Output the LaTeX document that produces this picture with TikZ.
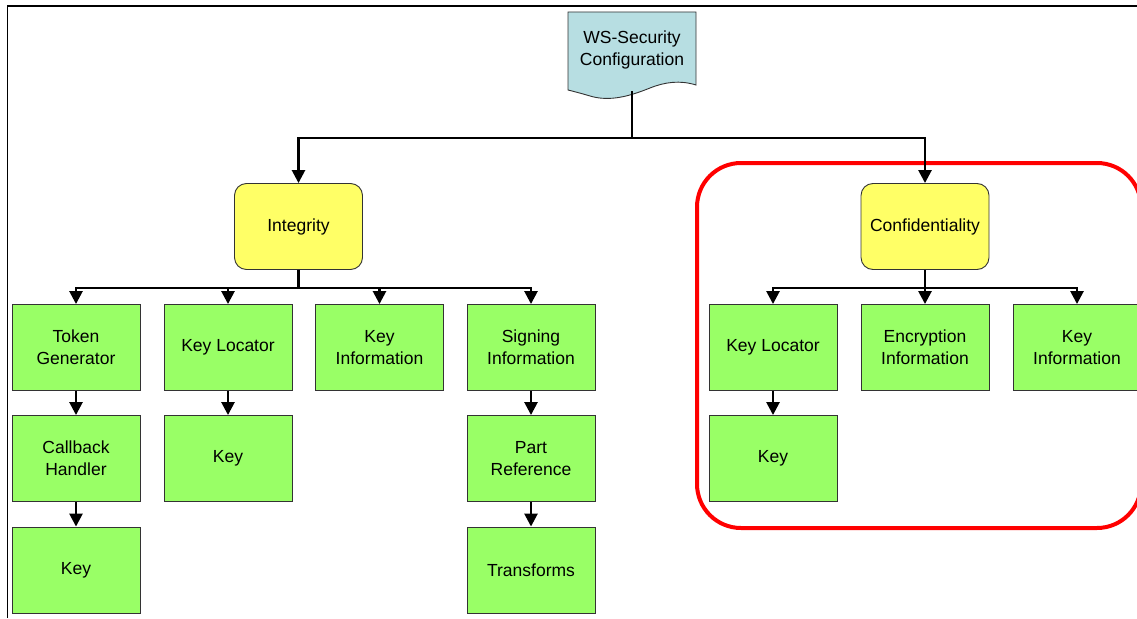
\documentclass[tikz,border=0pt]{standalone}
\usepackage{fontspec}
\setmainfont{Liberation Sans}
\usetikzlibrary{arrows.meta}
\definecolor{docblue}{RGB}{183,222,226}
\definecolor{intyellow}{RGB}{255,255,102}
\definecolor{boxgreen}{RGB}{153,255,102}
\definecolor{framered}{RGB}{255,0,0}
\tikzset{
  gbox/.style={draw=black!80, line width=0.9pt, fill=boxgreen, minimum width=128pt, minimum height=86pt, align=center, inner sep=2pt, font=\fontsize{17.5}{22}\selectfont},
  ybox/.style={draw=black!80, line width=0.9pt, fill=intyellow, rounded corners=12pt, minimum width=128pt, minimum height=86pt, align=center, font=\fontsize{17.5}{22}\selectfont},
  conn/.style={line width=2.6pt, -{Triangle[width=13pt,length=13pt]}},
  plain/.style={line width=2.6pt},
}
\begin{document}
\begin{tikzpicture}[x=1pt,y=-1pt]
\useasboundingbox (0,0) rectangle (1137,618);
% frame
\draw[line width=1.4pt] (7.5,618) -- (7.5,6) -- (1137,6);
% document shape
\draw[black!80, line width=0.9pt, fill=docblue] (568,12) -- (696,12) -- (696,85)
  .. controls (680,80) and (665,82) .. (650,88)
  .. controls (630,96) and (610,102) .. (590,96)
  .. controls (580,93) and (572,91) .. (568,90) -- cycle;
\node[align=center, font=\fontsize{17.5}{22}\selectfont] (doc) at (632,50) {WS-Security\\Configuration};
\coordinate (docbot) at (632,91);
\coordinate (bus0) at (632,138);
% red rounded frame
\draw[framered, line width=4pt, rounded corners=44pt] (697,163) rectangle (1141,528);
% level 1
\node[ybox] (integ) at (298.5,226.5) {Integrity};
\node[ybox] (conf) at (925,226.5) {Confidentiality};
% integrity children
\node[gbox] (tg) at (76,347.5) {Token\\Generator};
\node[gbox] (kl) at (228,347.5) {Key Locator};
\node[gbox] (ki) at (379.5,347.5) {Key\\Information};
\node[gbox] (si) at (531,347.5) {Signing\\Information};
\node[gbox] (cb) at (76,458.5) {Callback\\Handler};
\node[gbox] (k1) at (76,570) {Key};
\node[gbox] (k2) at (228,458.5) {Key};
\node[gbox] (pr) at (531,458.5) {Part\\Reference};
\node[gbox] (tr) at (531,570) {Transforms};
% confidentiality children
\node[gbox] (kl2) at (773,347.5) {Key Locator};
\node[gbox] (enc) at (925,347.5) {Encryption\\Information};
\node[gbox] (ki2) at (1077,347.5) {Key\\Information};
\node[gbox] (k3) at (773,458.5) {Key};
% connectors
\draw[plain] (docbot) -- (bus0);
\draw[conn] (bus0) -| (integ.north);
\draw[conn] (bus0) -| (conf.north);
\coordinate (ib) at (298.5,288);
\coordinate (cbus) at (925,288);
\draw[plain] (integ.south) -- (ib);
\draw[conn] (ib) -| (tg.north);
\draw[conn] (ib) -| (kl.north);
\draw[conn] (ib) -| (ki.north);
\draw[conn] (ib) -| (si.north);
\draw[plain] (conf.south) -- (cbus);
\draw[conn] (cbus) -| (kl2.north);
\draw[conn] (cbus) -- (enc.north);
\draw[conn] (cbus) -| (ki2.north);
\draw[conn] (tg) -- (cb);
\draw[conn] (cb) -- (k1);
\draw[conn] (kl) -- (k2);
\draw[conn] (si) -- (pr);
\draw[conn] (pr) -- (tr);
\draw[conn] (kl2) -- (k3);
\end{tikzpicture}
\end{document}
